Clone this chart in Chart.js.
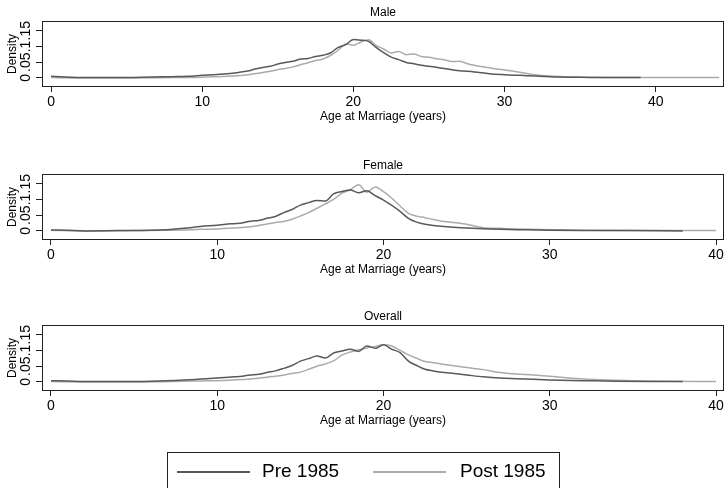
<!DOCTYPE html>
<html>
<head>
<meta charset="utf-8">
<script src="https://cdn.jsdelivr.net/npm/chart.js@4/dist/chart.umd.min.js"></script>
<style>
html,body{margin:0;padding:0;background:#fff;width:727px;height:488px;overflow:hidden;font-family:"Liberation Sans",Arial,Helvetica,sans-serif}
.panel{position:absolute;left:0;width:727px;height:150px}
#legend{position:absolute;left:167px;top:452px;width:393px;height:60px;border:1px solid #222;box-sizing:border-box}
#legend .sw{position:absolute;top:18px;height:2px;width:73px}
#legend span{position:absolute;top:7px;font-size:19px;line-height:22px;color:#000;white-space:nowrap}
</style>
</head>
<body>
<canvas id="c1" class="panel" width="727" height="150" style="top:0px"></canvas>
<canvas id="c2" class="panel" width="727" height="150" style="top:153px"></canvas>
<canvas id="c3" class="panel" width="727" height="150" style="top:304px"></canvas>
<div id="legend">
  <div class="sw" style="left:9px;background:#595959"></div><span style="left:94px">Pre 1985</span>
  <div class="sw" style="left:205px;background:#ababab"></div><span style="left:292px">Post 1985</span>
</div>
<script>
// ---- Data ----
const seriesNames = ['Pre 1985', 'Post 1985'];
const panelTitles = ['Male', 'Female', 'Overall'];
const xTitle = 'Age at Marriage (years)';
const yTitle = 'Density';
const xTicksMale = [0, 10, 20, 30, 40];
const xTicksOther = [0, 10, 20, 30, 40];
const yTicks = [0, 0.05, 0.1, 0.15];
const yTickLabels = ['0', '.05', '.1', '.15'];

const malePreX = [0,1,2,4,6,8,9,10,11,12,13,13.5,14,14.5,15,15.5,16,16.5,17,17.5,18,18.5,19,19.5,20,20.5,21,21.5,22,22.5,23,23.5,24,24.5,25,26,27,28,29,30,31,32,33,35,37,39];
const malePreY = [0.005,0.003,0.001,0.001,0.002,0.004,0.005,0.008,0.011,0.015,0.022,0.028,0.033,0.037,0.044,0.049,0.053,0.060,0.062,0.068,0.072,0.080,0.097,0.106,0.122,0.120,0.116,0.097,0.080,0.066,0.058,0.049,0.045,0.040,0.037,0.030,0.023,0.019,0.013,0.010,0.008,0.006,0.004,0.002,0.001,0.001];
const malePostX = [0,2,5,8,10,11,12,13,14,14.5,15,15.5,16,16.5,17,17.5,18,18.5,19,19.5,20,20.5,21,21.5,22,22.5,23,23.5,24,24.5,25,25.5,26,26.5,27,27.5,28,28.5,29,29.5,30,31,32,33,34,36,38,40,42,44.2];
const malePostY = [0.001,0.000,0.000,0.001,0.002,0.004,0.006,0.010,0.017,0.021,0.026,0.030,0.035,0.042,0.048,0.055,0.060,0.072,0.088,0.108,0.104,0.114,0.121,0.103,0.092,0.079,0.084,0.074,0.076,0.068,0.066,0.061,0.058,0.052,0.053,0.046,0.040,0.036,0.032,0.028,0.025,0.018,0.010,0.006,0.004,0.002,0.001,0.001,0.001,0.001];

const femalePreX = [0,1,2,4,6,7,8,9,10,10.5,11,11.5,12,12.5,13,13.5,14,14.5,15,15.5,16,16.5,17,17.5,18,18.5,19,19.5,20,20.5,21,21.5,22,22.5,23,24,25,26,27,28,30,32,35,38];
const femalePreY = [0.003,0.002,0.000,0.001,0.002,0.004,0.008,0.014,0.018,0.021,0.023,0.025,0.031,0.033,0.040,0.046,0.058,0.068,0.082,0.090,0.097,0.095,0.118,0.125,0.130,0.121,0.128,0.112,0.098,0.081,0.062,0.040,0.028,0.021,0.017,0.012,0.009,0.007,0.005,0.004,0.002,0.001,0.001,0.000];
const femalePostX = [0,2,5,7,8,9,10,11,12,12.5,13,13.5,14,14.5,15,15.5,16,16.5,17,17.5,18,18.5,19,19.5,20,20.5,21,21.5,22,22.5,23,23.5,24,24.5,25,25.5,26,27,28,30,32,35,40];
const femalePostY = [0.002,0.000,0.001,0.002,0.003,0.005,0.006,0.009,0.013,0.017,0.022,0.027,0.030,0.037,0.047,0.058,0.072,0.086,0.100,0.120,0.131,0.147,0.123,0.140,0.125,0.104,0.079,0.056,0.047,0.042,0.036,0.031,0.028,0.025,0.021,0.015,0.010,0.008,0.006,0.004,0.002,0.001,0.001];

const overallPreX = [0,1,2,4,6,8,9,10,11,11.5,12,12.5,13,13.5,14,14.5,15,15.5,16,16.5,17,17.5,18,18.5,19,19.5,20,20.5,21,21.5,22,22.5,23,23.5,24,25,26,27,28,29,30,32,34,36,38];
const overallPreY = [0.004,0.003,0.001,0.001,0.002,0.006,0.009,0.012,0.016,0.018,0.022,0.024,0.030,0.035,0.043,0.052,0.066,0.074,0.082,0.076,0.092,0.098,0.104,0.097,0.114,0.107,0.118,0.104,0.093,0.066,0.052,0.040,0.035,0.031,0.028,0.022,0.016,0.012,0.010,0.008,0.006,0.004,0.002,0.001,0.001];
const overallPostX = [0,2,5,8,9,10,11,12,13,13.5,14,14.5,15,15.5,16,16.5,17,17.5,18,18.5,19,19.5,20,20.5,21,21.5,22,22.5,23,23.5,24,25,26,27,28,29,30,31,32,33,35,37,40];
const overallPostY = [0.001,0.000,0.000,0.002,0.003,0.004,0.006,0.009,0.015,0.018,0.022,0.027,0.031,0.040,0.050,0.057,0.067,0.085,0.095,0.102,0.108,0.113,0.118,0.114,0.100,0.086,0.075,0.065,0.061,0.057,0.053,0.046,0.039,0.030,0.025,0.022,0.018,0.013,0.009,0.007,0.004,0.002,0.001];

// ---- Style ----
const FONT = '"Liberation Sans", Arial, Helvetica, sans-serif';
Chart.defaults.font.family = FONT;
Chart.defaults.color = '#000';
const preColor = '#595959';
const postColor = '#ababab';

const framePlugin = {
  id: 'frame',
  afterDatasetsDraw(chart) {
    const a = chart.chartArea, ctx = chart.ctx;
    ctx.save();
    ctx.strokeStyle = '#222';
    ctx.lineWidth = 1;
    const l = Math.round(a.left) + 0.5, t = Math.round(a.top) + 0.5;
    const r = Math.round(a.right) - 0.5, b = Math.round(a.bottom) - 0.5;
    ctx.strokeRect(l, t, r - l, b - t);
    ctx.restore();
  }
};

function pts(xs, ys) { return xs.map((x, i) => ({x: x, y: ys[i]})); }

function makePanel(id, title, preX, preY, postX, postY, xTicks, xMin, xMax) {
  return new Chart(document.getElementById(id), {
    type: 'line',
    data: {
      datasets: [
        {label: seriesNames[0], data: pts(preX, preY), borderColor: preColor, borderWidth: 1.5, pointRadius: 0, tension: 0.2, cubicInterpolationMode: 'monotone', fill: false},
        {label: seriesNames[1], data: pts(postX, postY), borderColor: postColor, borderWidth: 1.5, pointRadius: 0, tension: 0.2, cubicInterpolationMode: 'monotone', fill: false}
      ]
    },
    options: {
      responsive: false,
      animation: false,
      devicePixelRatio: 1,
      layout: {padding: {top: 0, left: 0, right: 3, bottom: 10}},
      plugins: {
        legend: {display: false},
        tooltip: {enabled: false},
        title: {display: true, text: title, fullSize: false, color: '#000', font: {size: 12, weight: 'normal'}, padding: {top: 5, bottom: 1.6}}
      },
      scales: {
        x: {
          type: 'linear', min: xMin, max: xMax,
          afterBuildTicks: s => { s.ticks = xTicks.map(v => ({value: v})); },
          afterFit: s => { s.height = 53; },
          grid: {drawOnChartArea: false, drawTicks: true, tickLength: 5, color: '#222', lineWidth: 1},
          border: {display: false},
          ticks: {autoSkip: false, maxRotation: 0, minRotation: 0, padding: 2, color: '#000', font: {size: 14}, callback: v => String(v)},
          title: {display: true, text: xTitle, color: '#000', font: {size: 12}, padding: {top: 0, bottom: 16}}
        },
        y: {
          type: 'linear', min: -0.029, max: 0.181,
          afterBuildTicks: s => { s.ticks = yTicks.map(v => ({value: v})); },
          afterFit: s => { s.width = 42; },
          grid: {drawOnChartArea: false, drawTicks: true, tickLength: 6, color: '#222', lineWidth: 1},
          border: {display: false},
          ticks: {autoSkip: false, minRotation: 90, maxRotation: 90, crossAlign: 'center', padding: 0, color: '#000', font: {size: 14},
                  callback: v => { const i = yTicks.indexOf(v); return i >= 0 ? yTickLabels[i] : ''; }},
          title: {display: true, text: yTitle, color: '#000', font: {size: 12}, padding: {top: 5, bottom: 0}}
        }
      }
    },
    plugins: [framePlugin]
  });
}

makePanel('c1', panelTitles[0], malePreX, malePreY, malePostX, malePostY, xTicksMale, -0.6, 44.52);
makePanel('c2', panelTitles[1], femalePreX, femalePreY, femalePostX, femalePostY, xTicksOther, -0.54, 40.48);
makePanel('c3', panelTitles[2], overallPreX, overallPreY, overallPostX, overallPostY, xTicksOther, -0.54, 40.48);
</script>
</body>
</html>
